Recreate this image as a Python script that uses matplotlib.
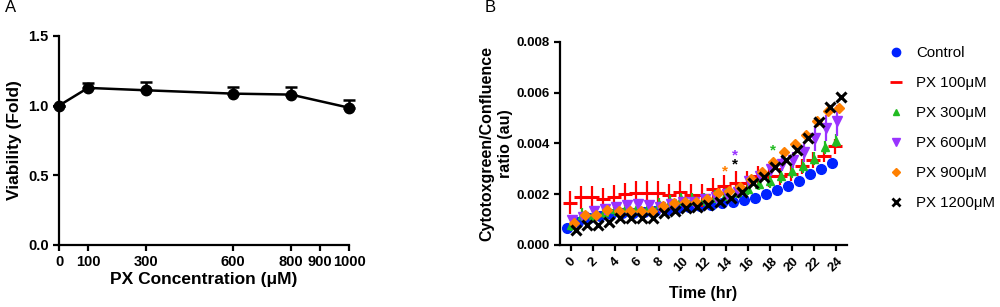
import numpy as np
import matplotlib
matplotlib.use("Agg")
import matplotlib.pyplot as plt
from matplotlib.lines import Line2D

plt.rcParams['font.family'] = ['Liberation Sans', 'DejaVu Sans']

# panel A: viability vs concentration
conc = [0, 100, 300, 600, 800, 1000]
viability = [1.0, 1.127, 1.11, 1.086, 1.079, 0.985]
viability_err = [0.0, 0.036, 0.058, 0.048, 0.053, 0.055]
conc_ticks = [0, 100, 300, 600, 800, 900, 1000]

# panel B: cytotox time course
hours = np.arange(25)
time_offset = [-0.35, -0.1, 0.0, 0.1, 0.3, 0.45]
series_names = ["Control", "PX 100\u03bcM", "PX 300\u03bcM", "PX 600\u03bcM", "PX 900\u03bcM", "PX 1200\u03bcM"]
control = [0.00068, 0.00092, 0.00106, 0.00116, 0.00121, 0.00124, 0.00127, 0.0013, 0.00133, 0.00138,
           0.00145, 0.0015, 0.00153, 0.00157, 0.00164, 0.00171, 0.00177, 0.00184, 0.002, 0.00217,
           0.00234, 0.00253, 0.0028, 0.00298, 0.00322]
control_err = [0.00004] * 20 + [0.00006, 0.00008, 0.0001, 0.00012, 0.00015]
px100 = [0.00167, 0.00188, 0.00188, 0.0018, 0.0019, 0.002, 0.00206, 0.00206, 0.00206, 0.00197,
         0.00207, 0.00197, 0.00195, 0.00219, 0.00232, 0.00245, 0.00245, 0.0027, 0.0027, 0.0027,
         0.0028, 0.0031, 0.00335, 0.0035, 0.00388]
px100_err = [0.00045] * 17 + [0.0004, 0.0004, 0.00035, 0.0003, 0.0003, 0.0003, 0.00025, 0.0003]
px300 = [0.0008, 0.0012, 0.0012, 0.0013, 0.0014, 0.0015, 0.0015, 0.0015, 0.0016, 0.0017,
         0.0018, 0.0018, 0.0018, 0.0019, 0.002, 0.0021, 0.0022, 0.0024, 0.0025, 0.0027,
         0.0029, 0.0031, 0.0034, 0.00385, 0.0041]
px300_err = [0.00025] * 25
px600 = [0.00098, 0.0011, 0.00135, 0.0014, 0.00151, 0.00157, 0.0016, 0.00157, 0.0015, 0.0016,
         0.0017, 0.0017, 0.0018, 0.0019, 0.002, 0.0021, 0.0025, 0.0027, 0.003, 0.0032,
         0.00335, 0.00367, 0.0042, 0.0046, 0.0049]
px600_err = [0.0002] * 18 + [0.0003, 0.0003, 0.0003, 0.0004, 0.0005, 0.0005, 0.0006]
px900 = [0.00085, 0.00118, 0.0012, 0.00138, 0.00132, 0.00132, 0.00132, 0.00132, 0.00155, 0.00165,
         0.0017, 0.0017, 0.0018, 0.00203, 0.00212, 0.0023, 0.0026, 0.00289, 0.00328, 0.00367,
         0.00398, 0.00433, 0.0049, 0.00529, 0.00538]
px900_err = [0.00015] * 25
px1200 = [0.00059, 0.00077, 0.00078, 0.0009, 0.00108, 0.00107, 0.00108, 0.00108, 0.00127, 0.00135,
          0.00145, 0.00151, 0.00157, 0.0017, 0.00184, 0.0021, 0.00243, 0.00269, 0.00308, 0.00335,
          0.00372, 0.0042, 0.00485, 0.00544, 0.00584]
px1200_err = [0.00008] * 25

star_x = [13.9, 14.85, 14.85, 18.3]
star_y = [0.00289, 0.00354, 0.00318, 0.00371]
star_colors = ["#ff8000", "#9933ff", "black", "#22bb22"]

colors = ["#0022ff", "#ff0000", "#22bb22", "#9933ff", "#ff8000", "black"]
markers = ["o", "_", "^", "v", "D", "x"]
msizes = [7, 10, 6, 7, 5.5, 7]

fig = plt.figure(figsize=(10, 3.07), dpi=100)

# ---- panel A
axA = fig.add_axes([0.059, 0.202, 0.29, 0.681])
axA.errorbar(conc, viability, yerr=[np.zeros(len(viability_err)), viability_err],
             color="black", lw=1.8, marker="o", ms=7.5, capsize=4, capthick=1.8,
             elinewidth=1.8, clip_on=False, zorder=3)
axA.set_xlim(0, 1000)
axA.set_ylim(0, 1.5)
axA.set_xticks(conc_ticks)
axA.set_xticklabels([str(c) for c in conc_ticks])
axA.set_yticks([0.0, 0.5, 1.0, 1.5])
axA.set_yticklabels(["0.0", "0.5", "1.0", "1.5"])
axA.set_xlabel("PX Concentration (\u03bcM)", fontsize=12.5, fontweight="bold", labelpad=2)
axA.set_ylabel("Viability (Fold)", fontsize=12.5, fontweight="bold", labelpad=4)

# ---- panel B
axB = fig.add_axes([0.56, 0.202, 0.287, 0.662])
data = [control, px100, px300, px600, px900, px1200]
errs = [control_err, px100_err, px300_err, px600_err, px900_err, px1200_err]
for i, (vals, err) in enumerate(zip(data, errs)):
    axB.errorbar(hours + time_offset[i], vals, yerr=err, fmt="none", ecolor=colors[i],
                 elinewidth=1.6, capsize=0, zorder=2 + i)
    axB.plot(hours + time_offset[i], vals, linestyle="none", marker=markers[i], color=colors[i],
             ms=msizes[i], mew=2.2 if markers[i] in ("_", "x") else 1, zorder=3 + i)

for sx, sy, sc in zip(star_x, star_y, star_colors):
    axB.text(sx, sy, "*", color=sc, fontsize=11, fontweight="bold", ha="center", va="center")

axB.set_xlim(-1, 25)
axB.set_ylim(0, 0.008)
axB.set_xticks(np.arange(0, 25, 2))
axB.set_xticklabels([str(h) for h in range(0, 25, 2)], rotation=45, ha="center")
axB.set_yticks([0, 0.002, 0.004, 0.006, 0.008])
axB.set_yticklabels(["0.000", "0.002", "0.004", "0.006", "0.008"])
axB.set_xlabel("Time (hr)", fontsize=11.5, fontweight="bold", labelpad=8)
axB.set_ylabel("Cytotoxgreen/Confluence\nratio (au)", fontsize=11.5, fontweight="bold",
               labelpad=2, linespacing=1.3)

for ax in (axA, axB):
    for s in ("top", "right"):
        ax.spines[s].set_visible(False)
    for s in ("left", "bottom"):
        ax.spines[s].set_linewidth(1.6)
    ax.tick_params(width=1.6, length=4, labelsize=10.5)
    for lab in ax.get_xticklabels() + ax.get_yticklabels():
        lab.set_fontweight("bold")
axB.tick_params(labelsize=9.5)

handles = [Line2D([], [], linestyle="none", marker=markers[i], color=colors[i],
                  ms=msizes[i] - 1, mew=2 if markers[i] in ("_", "x") else 1)
           for i in range(len(series_names))]
fig.legend(handles, series_names, loc="upper left", bbox_to_anchor=(0.882, 0.87),
           frameon=False, fontsize=10.8, handlelength=1.0, handletextpad=0.9,
           labelspacing=1.07, borderaxespad=0)

fig.text(0.005, 0.96, "A", fontsize=12)
fig.text(0.485, 0.96, "B", fontsize=12)

fig.savefig("out.png", dpi=100)
